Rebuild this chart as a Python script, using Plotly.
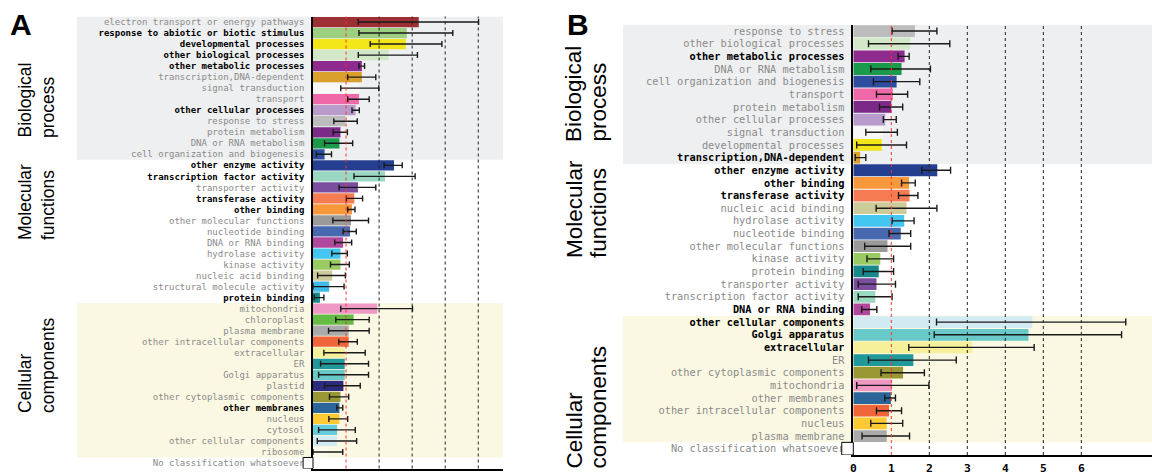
import plotly.graph_objects as go

W, H = 1152, 474

# ---------------- panel A data ----------------
a_terms = [
    "electron transport or energy pathways", "response to abiotic or biotic stimulus",
    "developmental processes", "other biological processes", "other metabolic processes",
    "transcription,DNA-dependent", "signal transduction", "transport",
    "other cellular processes", "response to stress", "protein metabolism",
    "DNA or RNA metabolism", "cell organization and biogenesis",
    "other enzyme activity", "transcription factor activity", "transporter activity",
    "transferase activity", "other binding", "other molecular functions",
    "nucleotide binding", "DNA or RNA binding", "hydrolase activity", "kinase activity",
    "nucleic acid binding", "structural molecule activity", "protein binding",
    "mitochondria", "chloroplast", "plasma membrane", "other intracellular components",
    "extracellular", "ER", "Golgi apparatus", "plastid", "other cytoplasmic components",
    "other membranes", "nucleus", "cytosol", "other cellular components", "ribosome",
    "No classification whatsoever",
]
a_ratio = [3.20, 2.84, 2.81, 2.29, 1.48, 1.48, 1.41, 1.39, 1.29, 0.98, 0.83, 0.80, 0.35,
           2.45, 2.18, 1.36, 1.25, 1.18, 1.15, 1.12, 0.91, 0.83, 0.83, 0.58, 0.49, 0.21,
           1.94, 1.23, 1.08, 1.08, 0.96, 0.96, 0.96, 0.92, 0.83, 0.80, 0.80, 0.73, 0.73, 0.45,
           None]
a_low = [1.37, 1.39, 1.73, 1.37, 1.39, 1.05, 0.84, 1.05, 1.18, 0.63, 0.61, 0.35, 0.10,
         2.15, 1.24, 0.79, 1.01, 1.05, 0.60, 0.91, 0.66, 0.57, 0.53, 0.14, 0.00, 0.04,
         0.84, 0.69, 0.47, 0.78, 0.33, 0.23, 0.17, 0.35, 0.50, 0.72, 0.48, 0.17, 0.13, 0.00,
         None]
a_high = [5.01, 4.23, 3.90, 3.16, 1.56, 1.90, 1.99, 1.70, 1.40, 1.34, 1.04, 1.20, 0.56,
          2.70, 3.09, 1.90, 1.50, 1.27, 1.68, 1.31, 1.17, 1.04, 1.10, 0.98, 0.94, 0.33,
          3.01, 1.70, 1.70, 1.34, 1.58, 1.68, 1.68, 1.43, 1.08, 0.90, 1.05, 1.28, 1.32, 0.90,
          None]
a_bold = ["response to abiotic or biotic stimulus", "developmental processes",
          "other biological processes", "other metabolic processes", "other cellular processes",
          "other enzyme activity", "transcription factor activity", "transferase activity",
          "other binding", "protein binding", "other membranes"]
a_groups = [13, 13, 14]  # biological, molecular, cellular

# ---------------- panel B data ----------------
b_terms = [
    "response to stress", "other biological processes", "other metabolic processes",
    "DNA or RNA metabolism", "cell organization and biogenesis", "transport",
    "protein metabolism", "other cellular processes", "signal transduction",
    "developmental processes", "transcription,DNA-dependent",
    "other enzyme activity", "other binding", "transferase activity", "nucleic acid binding",
    "hydrolase activity", "nucleotide binding", "other molecular functions", "kinase activity",
    "protein binding", "transporter activity", "transcription factor activity",
    "DNA or RNA binding",
    "other cellular components", "Golgi apparatus", "extracellular", "ER",
    "other cytoplasmic components", "mitochondria", "other membranes",
    "other intracellular components", "nucleus", "plasma membrane",
    "No classification whatsoever",
]
b_ratio = [1.62, 1.49, 1.35, 1.27, 1.14, 1.04, 1.00, 0.84, 0.78, 0.75, 0.18,
           2.21, 1.47, 1.48, 1.40, 1.34, 1.25, 0.90, 0.71, 0.67, 0.61, 0.58, 0.44,
           4.71, 4.61, 3.13, 1.58, 1.31, 1.02, 0.99, 0.94, 0.88, 0.88,
           None]
b_low = [1.02, 0.40, 1.18, 0.46, 0.53, 0.61, 0.69, 0.79, 0.33, 0.09, 0.05,
         1.80, 1.27, 1.19, 0.60, 1.02, 0.94, 0.30, 0.36, 0.26, 0.13, 0.13, 0.22,
         2.19, 2.13, 1.46, 0.40, 0.73, 0.09, 0.83, 0.61, 0.46, 0.23,
         None]
b_high = [2.20, 2.54, 1.47, 2.03, 1.75, 1.43, 1.30, 1.13, 1.16, 1.40, 0.33,
          2.56, 1.63, 1.70, 2.20, 1.60, 1.51, 1.51, 1.06, 1.06, 1.11, 1.02, 0.62,
          7.17, 7.06, 4.76, 2.71, 1.87, 1.99, 1.11, 1.27, 1.30, 1.48,
          None]
b_bold = ["other metabolic processes", "transcription,DNA-dependent", "other enzyme activity",
          "other binding", "transferase activity", "DNA or RNA binding",
          "other cellular components", "Golgi apparatus", "extracellular"]
b_groups = [11, 12, 10]

a_xticks = [0, 1, 2, 3, 4, 5]
b_xticks = [0, 1, 2, 3, 4, 5, 6]

# colour of each GO term (shared by both panels)
COLORS = {
    "electron transport or energy pathways": "#9c3034",
    "response to abiotic or biotic stimulus": "#9ccf80",
    "developmental processes": "#f2e619",
    "other biological processes": "#d3e8c8",
    "other metabolic processes": "#8f2a8f",
    "transcription,DNA-dependent": "#d9a02b",
    "signal transduction": "#f7f8f6",
    "transport": "#ef68a8",
    "other cellular processes": "#b99bcb",
    "response to stress": "#bcbcbc",
    "protein metabolism": "#7b2a88",
    "DNA or RNA metabolism": "#1a9a4a",
    "cell organization and biogenesis": "#2d4da0",
    "other enzyme activity": "#243e90",
    "transcription factor activity": "#9bd8c2",
    "transporter activity": "#7a4d9f",
    "transferase activity": "#f47b52",
    "other binding": "#f7983a",
    "other molecular functions": "#9a9a9a",
    "nucleotide binding": "#4868b0",
    "DNA or RNA binding": "#b0489d",
    "hydrolase activity": "#43c6f0",
    "kinase activity": "#9acb62",
    "nucleic acid binding": "#cdcb99",
    "structural molecule activity": "#3fb9ea",
    "protein binding": "#17898a",
    "mitochondria": "#ef98c4",
    "chloroplast": "#66bb44",
    "plasma membrane": "#aaaaaa",
    "other intracellular components": "#f0663a",
    "extracellular": "#f6f09a",
    "ER": "#21999a",
    "Golgi apparatus": "#69c8c8",
    "plastid": "#2b2a7e",
    "other cytoplasmic components": "#999733",
    "other membranes": "#2b6599",
    "nucleus": "#fdca33",
    "cytosol": "#66cbdc",
    "other cellular components": "#d2eaf2",
    "ribosome": "#fbfaef",
    "No classification whatsoever": "#ffffff",
}

GRAY_BAND = "#eeeff0"
YELLOW_BAND = "#faf8e2"
MONO = "DejaVu Sans Mono, Liberation Mono, monospace"
SANS = "Liberation Sans, Arial, sans-serif"


def px_x(p):
    return p / W


def px_y(p):
    return (H - p) / H


def fmt_label(term, bold_terms):
    if term in bold_terms:
        return "<b>" + term + "</b>"
    return "<span style='color:#8a8a8a'>" + term + "</span>"


def add_panel(fig, n, terms, ratio, low, high, bold_terms, groups, xticks,
              x0_px, unit_px, x1_px, top_px, bottom_px, band_left_px, font_size, cap):
    xa, ya = "x" + n, "y" + n
    plus = [None if v is None else h - v for v, h in zip(ratio, high)]
    minus = [None if v is None else v - lo for v, lo in zip(ratio, low)]
    fig.add_trace(go.Bar(
        x=ratio, y=terms, orientation="h",
        marker=dict(color=[COLORS[t] for t in terms], line=dict(width=0)),
        error_x=dict(type="data", symmetric=False, array=plus, arrayminus=minus,
                     color="#1a1a1a", thickness=1.4, width=cap),
        xaxis=xa, yaxis=ya, hoverinfo="skip",
    ))
    nrows = len(terms)
    fig.update_layout({
        "xaxis" + n: dict(
            domain=[px_x(x0_px), px_x(x1_px)], anchor=ya,
            range=[0, (x1_px - x0_px) / unit_px],
            tickvals=xticks, ticktext=["<b>%d</b>" % t for t in xticks],
            tickfont=dict(family=MONO, size=font_size + 1, color="black"),
            showgrid=False, zeroline=False, showline=True, automargin=False,
            linecolor="black", linewidth=1.5, ticks="", ticklabelstandoff=2,
            fixedrange=True,
        ),
        "yaxis" + n: dict(
            domain=[px_y(bottom_px), px_y(top_px)], anchor=xa,
            type="category", range=[nrows - 0.5, -0.5],
            tickvals=terms, ticktext=[fmt_label(t, bold_terms) for t in terms],
            tickfont=dict(family=MONO, size=font_size, color="black"),
            showgrid=False, zeroline=False, showline=True, automargin=False,
            linecolor="black", linewidth=1.5, ticks="", ticklabelstandoff=5,
            fixedrange=True,
        ),
    })
    # shaded backgrounds: biological process (grey) and cellular components (yellow)
    start_bio, end_bio = 0, groups[0] - 1
    start_cell = groups[0] + groups[1]
    end_cell = start_cell + groups[2] - 1
    for s, e, col in [(start_bio, end_bio, GRAY_BAND), (start_cell, end_cell, YELLOW_BAND)]:
        fig.add_shape(type="rect", xref="paper", yref=ya,
                      x0=px_x(band_left_px), x1=px_x(x1_px), y0=s - 0.5, y1=e + 0.5,
                      fillcolor=col, line=dict(width=0), layer="below")
    # dotted reference lines, red at ratio 1
    for v in xticks[1:]:
        fig.add_shape(type="line", xref=xa, yref=ya + " domain",
                      x0=v, x1=v, y0=0, y1=1, layer="above",
                      line=dict(color="#ff3030" if v == 1 else "#222222", width=1, dash="dot"))
    # small box next to the unclassified row
    fig.add_shape(type="rect", xref="paper", yref=ya,
                  x0=px_x(x0_px - cap * 3.3), x1=px_x(x0_px), y0=nrows - 1.5, y1=nrows - 0.5,
                  line=dict(color="black", width=1), fillcolor="white", layer="above")


fig = go.Figure()
add_panel(fig, "", a_terms, a_ratio, a_low, a_high, a_bold, a_groups, a_xticks,
          x0_px=313, unit_px=33.05, x1_px=503, top_px=16.5, bottom_px=468.5,
          band_left_px=77, font_size=9, cap=3)
add_panel(fig, "2", b_terms, b_ratio, b_low, b_high, b_bold, b_groups, b_xticks,
          x0_px=853.3, unit_px=38.0, x1_px=1152, top_px=24.7, bottom_px=455,
          band_left_px=623, font_size=10.3, cap=3.5)

# panel letters
for letter, xp in [("A", 8), ("B", 565)]:
    fig.add_annotation(text="<b>" + letter + "</b>", xref="paper", yref="paper",
                       x=px_x(xp), y=px_y(6), xanchor="left", yanchor="top",
                       showarrow=False, font=dict(family=SANS, size=30, color="black"))

# section titles, one rotated annotation per line
sections_a = [("Biological", "process", 140), ("Molecular", "functions", 242),
              ("Cellular", "components", 415)]
sections_b = [("Biological", "process", 144), ("Molecular", "functions", 260),
              ("Cellular", "components", 471)]
for secs, c1, c2, size in [(sections_a, 25, 48, 17.5), (sections_b, 574, 598, 22.5)]:
    for line1, line2, bottom in secs:
        for txt, cx in [(line1, c1), (line2, c2)]:
            fig.add_annotation(text=txt, xref="paper", yref="paper",
                               x=px_x(cx), y=px_y(bottom), xanchor="center", yanchor="bottom",
                               textangle=-90, showarrow=False,
                               font=dict(family=SANS, size=size, color="black"))

fig.update_layout(
    width=W, height=H, margin=dict(l=0, r=0, t=0, b=0, autoexpand=False),
    paper_bgcolor="white", plot_bgcolor="rgba(0,0,0,0)",
    showlegend=False, bargap=0.07,
)

# the page's default body margin would shift the figure by 8px
fig.write_html("out.html", config={"displayModeBar": False},
               post_script="document.body.style.margin='0px';")
